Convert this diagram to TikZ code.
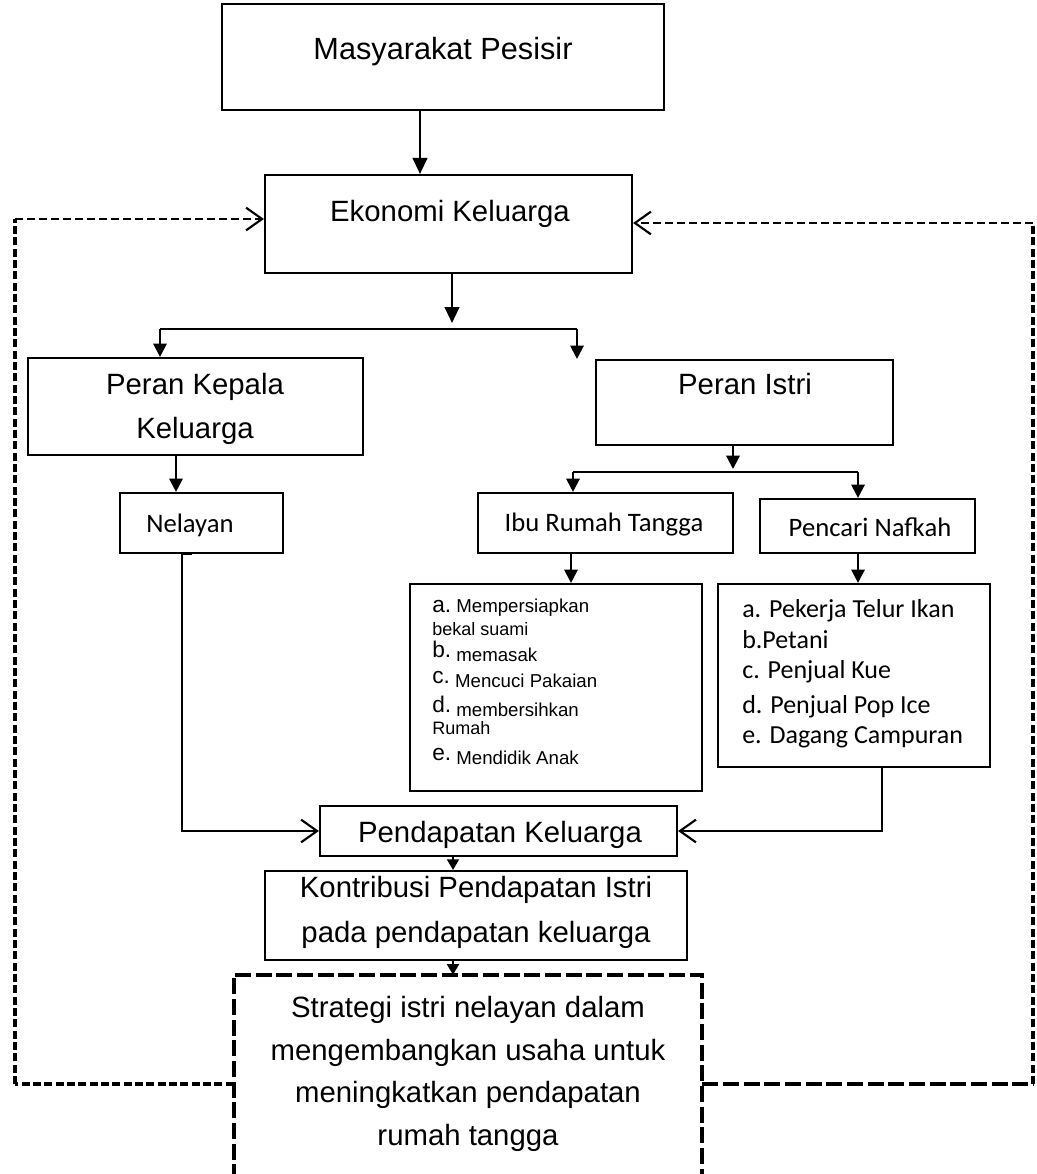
\documentclass[tikz,border=0pt]{standalone}
\usepackage{fontspec}
\setmainfont{Liberation Sans}
\newfontfamily\calibrifont{Carlito}
\usetikzlibrary{arrows.meta,fit}
\newcommand\itemlbl[1]{\raisebox{3pt}{\fontsize{17}{20}\selectfont #1}\ }
\begin{document}
\begin{tikzpicture}[x=0.75pt,y=-0.75pt,
  box/.style={draw, line width=1.6pt, inner sep=0pt},
  ghost/.style={inner sep=0pt},
  ln/.style={line width=1.6pt},
  tri/.style={line width=1.6pt, -{Triangle[length=10pt,width=10pt]}},
  tris/.style={line width=1.6pt, -{Triangle[length=8pt,width=9pt]}},
  trib/.style={line width=1.6pt, -{Triangle[length=12pt,width=11pt]}},
  barb/.style={line width=1.6pt, -{Straight Barb[length=12pt,width=17pt,line width=1.6pt]}},
  dtop/.style={line width=1.5pt, dash pattern=on 6pt off 3pt},
  dvert/.style={line width=3pt, dash pattern=on 6pt off 2.5pt},
  dbotl/.style={line width=2.3pt, dash pattern=on 6pt off 2.5pt},
  dbotr/.style={line width=3pt, dash pattern=on 12pt off 3.5pt},
  stdash/.style={line width=3pt, dash pattern=on 12pt off 3.5pt},
  big/.style={font=\fontsize{22}{26}\selectfont, inner sep=0pt, anchor=base},
  bigger/.style={font=\fontsize{23}{27}\selectfont, inner sep=0pt, anchor=base},
  cal/.style={font=\calibrifont\fontsize{20}{24}\selectfont, inner sep=0pt, anchor=base},
  lst/.style={font=\fontsize{14}{17}\selectfont, inner sep=0pt, anchor=base west},
  lstb/.style={font=\fontsize{13.5}{16}\selectfont, inner sep=0pt, anchor=base west},
  lst2/.style={font=\calibrifont\fontsize{19.5}{23}\selectfont, inner sep=0pt, anchor=base west}
]
\useasboundingbox (0,0) rectangle (1037,1174);

% boxes
\node[box, fit={(222,4) (664,110)}] (mp) {};
\node[box, fit={(265,175) (632,273)}] (ek) {};
\node[box, fit={(28,358) (363,455)}] (pk) {};
\node[box, fit={(596,360) (893,445)}] (pi) {};
\node[box, fit={(120,493) (283,553)}] (nel) {};
\node[box, fit={(478,493) (733,553)}] (irt) {};
\node[box, fit={(760,499) (975,553)}] (pn) {};
\node[box, fit={(410,584) (702,791)}] (l1) {};
\node[box, fit={(718,584) (990,767)}] (l2) {};
\node[box, fit={(320,806) (677,856)}] (pd) {};
\node[box, fit={(265,871) (687,960)}] (ko) {};
\node[ghost, fit={(234,975) (702,1180)}] (st) {};
\draw[stdash] (st.south west) -- (st.north west) -- (st.north east) -- (st.south east);

% texts
\node[bigger] (tmp) at (443,59) {Masyarakat Pesisir};
\node[big] (tek) at (450,221) {Ekonomi Keluarga};
\node[big] (tpk1) at (195,394) {Peran Kepala};
\node[big] (tpk2) at (195,438) {Keluarga};
\node[big] (tpi) at (745,394) {Peran Istri};
\node[cal] (tnel) at (190,532) {Nelayan};
\node[cal] (tirt) at (604,531) {Ibu Rumah Tangga};
\node[cal] (tpn) at (870,536) {Pencari Nafkah};

\node[lst] (a1) at (432,612) {{\fontsize{17}{20}\selectfont a.}\ Mempersiapkan};
\node[lstb] (a1b) at (432,635) {bekal suami};
\node[lst] (b1) at (432,661) {\itemlbl{b.}memasak};
\node[lst] (c1) at (432,687) {\itemlbl{c.}Mencuci Pakaian};
\node[lst] (d1) at (432,716) {\itemlbl{d.}membersihkan};
\node[lstb] (d1b) at (432,734) {Rumah};
\node[lst] (e1) at (432,764) {\itemlbl{e.}Mendidik Anak};

\node[lst2] (a2) at (742,617) {a. Pekerja Telur Ikan};
\node[lst2] (b2) at (742,648) {b.Petani};
\node[lst2] (c2) at (742,678) {c. Penjual Kue};
\node[lst2] (d2) at (742,713) {d. Penjual Pop Ice};
\node[lst2] (e2) at (742,743) {e. Dagang Campuran};

\node[big] (tpd) at (500,842) {Pendapatan Keluarga};
\node[big] (tko1) at (476,897) {Kontribusi Pendapatan Istri};
\node[big] (tko2) at (476,942) {pada pendapatan keluarga};
\node[big] (ts1) at (468,1017) {Strategi istri nelayan dalam};
\node[big] (ts2) at (468,1060) {mengembangkan usaha untuk};
\node[big] (ts3) at (468,1102) {meningkatkan pendapatan};
\node[big] (ts4) at (468,1145) {rumah tangga};

% helper coordinates
\coordinate (x420) at (420,0);
\coordinate (x452) at (452,0);
\coordinate (j1) at (452,323);
\coordinate (bl) at (160,329);
\coordinate (br) at (577,329);
\coordinate (x176) at (176,0);
\coordinate (x733) at (733,0);
\coordinate (j2) at (733,469);
\coordinate (b2l) at (573,472);
\coordinate (b2r) at (858,472);
\coordinate (x571) at (571,0);
\coordinate (x182) at (182,0);
\coordinate (x192) at (192,0);
\coordinate (x882) at (882,0);
\coordinate (x453) at (453,0);
\coordinate (lb) at (15,1084);
\coordinate (lt) at (15,219);
\coordinate (rb) at (1033,1084);
\coordinate (rt) at (1033,223);

% connectors
\draw[trib] (mp.south -| x420) -- (ek.north -| x420);
\draw[trib] (ek.south -| x452) -- (j1);
\draw[ln] (bl) -- (br);
\draw[tri] (bl) -- (pk.north -| bl);
\draw[tri] (br) -- (pi.north -| br);
\draw[tri] (pk.south -| x176) -- (nel.north -| x176);
\draw[tri] (pi.south -| x733) -- (j2);
\draw[ln] (b2l) -- (b2r);
\draw[tri] (b2l) -- (irt.north -| b2l);
\draw[tri] (b2r) -- (pn.north -| b2r);
\draw[tri] (irt.south -| x571) -- (l1.north -| x571);
\draw[tri] (pn.south -| b2r) -- (l2.north -| b2r);
\draw[barb] (nel.south -| x192) -- (nel.south -| x182) |- (pd.west);
\draw[barb] (l2.south -| x882) |- (pd.east);
\draw[tris] (pd.south -| x453) -- (ko.north -| x453);
\draw[tris] (ko.south -| x453) -- (st.north -| x453);

% feedback dashed
\draw[dbotl] (st.west |- lb) -- (lb);
\draw[dvert] (lb) -- (lt);
\draw[dtop, -{Straight Barb[length=12pt,width=17pt,line width=1.6pt]}] (lt) -- (ek.west |- lt);
\draw[dbotr] (st.east |- rb) -- (rb);
\draw[dvert] (rb) -- (rt);
\draw[dtop, -{Straight Barb[length=12pt,width=17pt,line width=1.6pt]}] (rt) -- (ek.east |- rt);
\end{tikzpicture}
\end{document}
